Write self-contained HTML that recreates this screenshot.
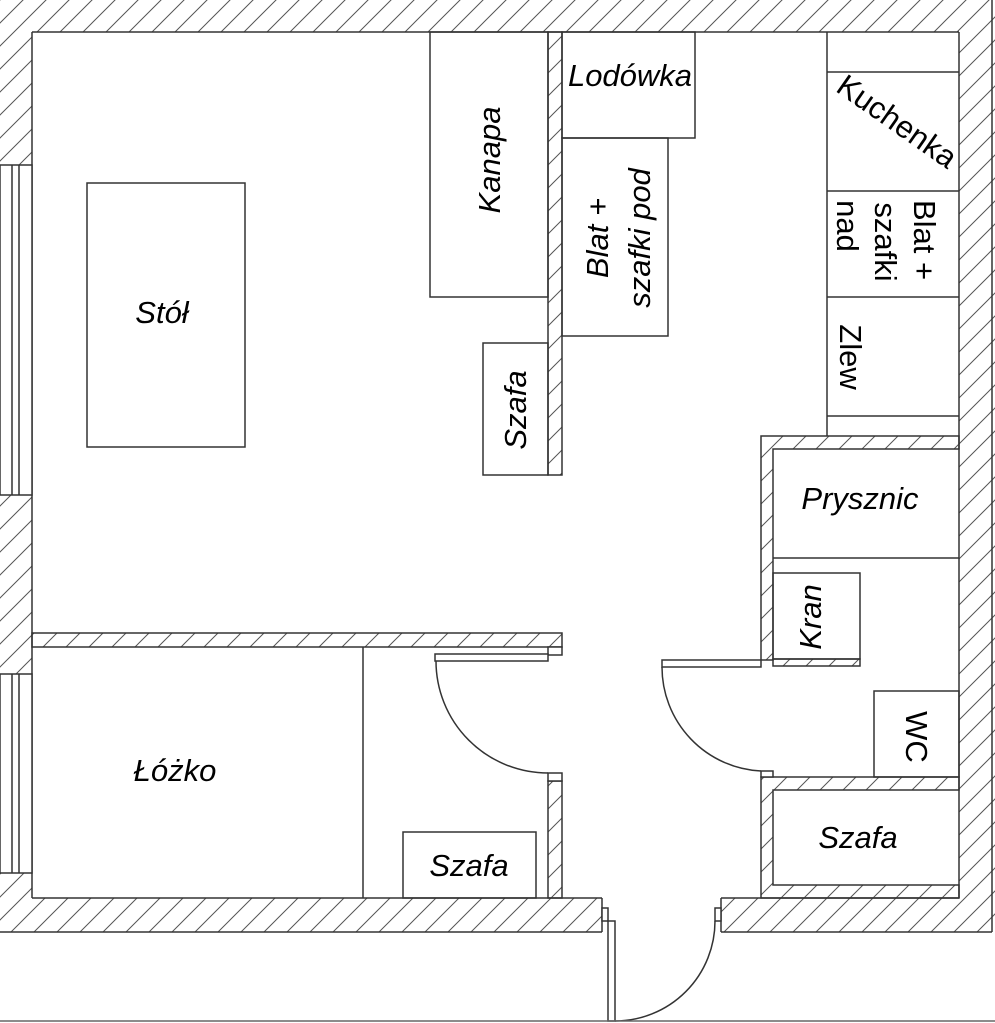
<!DOCTYPE html>
<html><head><meta charset="utf-8"><style>
html,body{margin:0;padding:0;background:#fff;}
svg{display:block;}
text{font-family:"Liberation Sans",sans-serif;font-size:31px;font-style:italic;fill:#000;}
</style></head><body>
<svg width="995" height="1023" viewBox="0 0 995 1023" xmlns="http://www.w3.org/2000/svg">
<defs>
<pattern id="h" patternUnits="userSpaceOnUse" width="23" height="23">
<path d="M-2,25 L25,-2 M-13,13 L13,-13 M10,36 L36,10" stroke="#555" stroke-width="1"/>
</pattern>
</defs>
<g stroke="#333" stroke-width="1.5" fill="url(#h)">
<path d="M0,0 H995 V932 H721 V898 H959 V32 H32 V898 H602 V932 H0 Z" stroke="none"/>
<line x1="32" y1="32" x2="959" y2="32"/>
<line x1="32" y1="32" x2="32" y2="898"/>
<line x1="959" y1="32" x2="959" y2="898"/>
<line x1="992" y1="0" x2="992" y2="932"/>
<line x1="0" y1="932" x2="602" y2="932"/>
<line x1="721" y1="932" x2="992" y2="932"/>
<line x1="32" y1="898" x2="602" y2="898"/>
<line x1="721" y1="898" x2="959" y2="898"/>
<line x1="602" y1="898" x2="602" y2="932"/>
<line x1="721" y1="898" x2="721" y2="932"/>
</g>
<g stroke="#333" stroke-width="1.5" fill="#fff">
<rect x="0" y="165" width="32" height="330"/>
<line x1="12" y1="165" x2="12" y2="495"/><line x1="19" y1="165" x2="19" y2="495"/>
<rect x="0" y="674" width="32" height="199"/>
<line x1="12" y1="674" x2="12" y2="873"/><line x1="19" y1="674" x2="19" y2="873"/>
</g>
<g stroke="#333" stroke-width="1.5" fill="url(#h)">
<rect x="32" y="633" width="530" height="14"/>
<rect x="548" y="647" width="14" height="8" fill="#fff"/>
<rect x="548" y="781" width="14" height="117"/>
<rect x="548" y="773" width="14" height="8" fill="#fff"/>
<rect x="548" y="32" width="14" height="443"/>
<path d="M761,660 V436 H959 V449 H773 V660 Z"/>
<rect x="773" y="659" width="87" height="7"/>
<path d="M761,777 H959 V790 H773 V885 H959 V898 H761 Z"/>
<rect x="761" y="771" width="12" height="6" fill="#fff"/>
</g>
<g stroke="#333" stroke-width="1.5" fill="none">
<rect x="435" y="654" width="113" height="7" fill="#fff"/>
<path d="M436,661 A112,112 0 0 0 548,773"/>
<rect x="662" y="660" width="99" height="7" fill="#fff"/>
<path d="M662,667 A104,104 0 0 0 761,771"/>
<rect x="602" y="908" width="6" height="13" fill="#fff"/>
<rect x="608" y="921" width="7" height="100" fill="#fff"/>
<rect x="715" y="908" width="6" height="13" fill="#fff"/>
<path d="M615,1021 A100,100 0 0 0 715,921"/>
<line x1="0" y1="1021" x2="995" y2="1021" stroke="#666"/>
<rect x="87" y="183" width="158" height="264"/>
<rect x="430" y="32" width="118" height="265"/>
<rect x="562" y="32" width="133" height="106"/>
<rect x="562" y="138" width="106" height="198"/>
<rect x="483" y="343" width="65" height="132"/>
<line x1="827" y1="32" x2="827" y2="436"/>
<line x1="827" y1="72" x2="959" y2="72"/>
<line x1="827" y1="191" x2="959" y2="191"/>
<line x1="827" y1="297" x2="959" y2="297"/>
<line x1="827" y1="416" x2="959" y2="416"/>
<line x1="773" y1="558" x2="959" y2="558"/>
<rect x="773" y="573" width="87" height="86"/>
<rect x="874" y="691" width="85" height="86"/>
<line x1="363" y1="647" x2="363" y2="898"/>
<rect x="403" y="832" width="133" height="66"/>
</g>
<text x="162" y="323" text-anchor="middle">Stół</text>
<text x="175" y="781" text-anchor="middle">Łóżko</text>
<text x="469" y="876" text-anchor="middle">Szafa</text>
<text x="630" y="86" text-anchor="middle">Lodówka</text>
<text x="860" y="509" text-anchor="middle">Prysznic</text>
<text x="858" y="848" text-anchor="middle">Szafa</text>
<text transform="translate(500,160) rotate(-90)" text-anchor="middle">Kanapa</text>
<text transform="translate(526,410) rotate(-90)" text-anchor="middle">Szafa</text>
<text transform="translate(608,238) rotate(-90)" text-anchor="middle">Blat +</text>
<text transform="translate(650,238) rotate(-90)" text-anchor="middle">szafki pod</text>
<text transform="translate(821,617) rotate(-90)" text-anchor="middle">Kran</text>
<text transform="translate(891,130) rotate(35)" text-anchor="middle" style="font-style:normal">Kuchenka</text>
<text transform="translate(914,240) rotate(90)" text-anchor="middle" style="font-style:normal">Blat +</text>
<text transform="translate(875,242) rotate(90)" text-anchor="middle" style="font-style:normal">szafki</text>
<text transform="translate(837,226) rotate(90)" text-anchor="middle" style="font-style:normal">nad</text>
<text transform="translate(840,357) rotate(90)" text-anchor="middle" style="font-style:normal">Zlew</text>
<text transform="translate(906,737) rotate(90)" text-anchor="middle" style="font-style:normal">WC</text>
</svg>
</body></html>
